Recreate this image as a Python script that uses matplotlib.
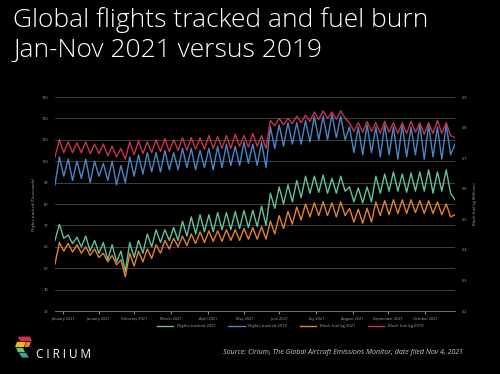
import numpy as np
import matplotlib
matplotlib.use('Agg')
import matplotlib.pyplot as plt
from matplotlib.patches import Polygon

# weekly peak / trough readings, Jan -> early Nov (45 weeks)
# flights tracked, thousands (left axis)
flights_2019_peak = [102, 101, 100, 101, 100, 99, 100, 98, 102, 103, 104, 104, 105, 104, 106,
                     106, 105, 106, 107, 108, 107, 109, 108, 109, 116, 117, 118, 118, 119,
                     121, 121, 122, 121, 116, 116, 117, 116, 117, 116, 117, 116, 117, 117, 116, 117]
flights_2019_trough = [93, 91, 92, 90, 93, 91, 89, 90, 93, 94, 95, 95, 96, 96, 97,
                       96, 97, 96, 97, 98, 98, 99, 98, 97, 106, 107, 108, 108, 109,
                       110, 110, 111, 110, 104, 103, 104, 102, 103, 101, 102, 103, 101, 102, 101, 103]
flights_2019_ends = [89, 108]

flights_2021_peak = [70.5, 65.5, 64.5, 65, 63, 62, 61, 58, 62, 63, 66, 68, 68, 69, 72,
                     74, 75, 75, 76, 76, 76.5, 77, 77, 79, 85, 88, 89, 91, 93,
                     93, 93.5, 92, 93, 88, 87.5, 88, 93, 94, 95, 94, 94.5, 95, 96, 95, 96]
flights_2021_trough = [64, 61.5, 60, 58, 57, 54, 53, 48.5, 55, 57, 60, 62, 63, 63, 65,
                       66, 67, 67, 68, 68, 68.5, 69, 69.5, 70, 78, 80, 81, 83, 85,
                       85.5, 85, 85, 86, 81, 80.5, 81, 85, 86, 86, 85.5, 86, 86, 85, 86, 85]
flights_2021_ends = [63, 82]

# block fuel, kg billions (right axis)
fuel_2019_peak = [0.760, 0.753, 0.750, 0.753, 0.746, 0.746, 0.739, 0.732, 0.753, 0.757, 0.753,
                  0.760, 0.764, 0.760, 0.767, 0.767, 0.767, 0.774, 0.771, 0.774, 0.778, 0.774,
                  0.781, 0.774, 0.823, 0.830, 0.830, 0.837, 0.841, 0.851, 0.855, 0.851, 0.855,
                  0.816, 0.816, 0.820, 0.816, 0.820, 0.816, 0.816, 0.820, 0.816, 0.816, 0.823, 0.816]
fuel_2019_trough = [0.718, 0.718, 0.718, 0.715, 0.715, 0.708, 0.704, 0.697, 0.711, 0.715, 0.718,
                    0.722, 0.722, 0.725, 0.725, 0.729, 0.729, 0.732, 0.732, 0.732, 0.739, 0.736,
                    0.739, 0.732, 0.806, 0.809, 0.813, 0.816, 0.820, 0.827, 0.830, 0.827, 0.830,
                    0.788, 0.785, 0.788, 0.781, 0.785, 0.781, 0.781, 0.785, 0.778, 0.781, 0.781, 0.774]
fuel_2019_ends = [0.704, 0.767]

fuel_2021_peak = [0.424, 0.421, 0.417, 0.410, 0.403, 0.389, 0.382, 0.368, 0.389, 0.396, 0.403,
                  0.417, 0.431, 0.438, 0.445, 0.452, 0.459, 0.462, 0.462, 0.466, 0.466, 0.470,
                  0.473, 0.476, 0.494, 0.512, 0.526, 0.540, 0.550, 0.554, 0.557, 0.554, 0.557,
                  0.536, 0.533, 0.536, 0.557, 0.561, 0.564, 0.564, 0.564, 0.561, 0.561, 0.557, 0.550]
fuel_2021_trough = [0.396, 0.393, 0.389, 0.382, 0.375, 0.361, 0.351, 0.312, 0.347, 0.361, 0.372,
                    0.389, 0.403, 0.410, 0.414, 0.421, 0.424, 0.428, 0.428, 0.431, 0.431, 0.435,
                    0.435, 0.435, 0.452, 0.470, 0.484, 0.498, 0.508, 0.512, 0.512, 0.508, 0.512,
                    0.491, 0.487, 0.491, 0.512, 0.515, 0.519, 0.519, 0.522, 0.519, 0.519, 0.515, 0.508]
fuel_2021_ends = [0.354, 0.515]

month_labels = ['January 2021', 'January 2021', 'February 2021', 'March 2021', 'April 2021',
                'May 2021', 'June 2021', 'July 2021', 'August 2021', 'September 2021', 'October 2021']


def series(peak, trough, ends):
    # start value, then peak/trough alternating each week, then last value
    zz = np.column_stack([peak, trough]).ravel()
    return np.concatenate([[ends[0]], zz, [ends[1]]])


def main():
    plt.rcParams['font.family'] = ['Open Sans', 'DejaVu Sans']

    fl19 = series(flights_2019_peak, flights_2019_trough, flights_2019_ends)
    fl21 = series(flights_2021_peak, flights_2021_trough, flights_2021_ends)
    fu19 = series(fuel_2019_peak, fuel_2019_trough, fuel_2019_ends)
    fu21 = series(fuel_2021_peak, fuel_2021_trough, fuel_2021_ends)
    xx = np.arange(len(fl19))

    fig = plt.figure(figsize=(5, 3.74), dpi=100, facecolor='black')
    ax = fig.add_axes([0.11, 0.1684, 0.80, 0.5722], facecolor='black')
    ax2 = ax.twinx()

    c_green, c_blue, c_orange, c_red = '#5fc39b', '#4a86c6', '#e3822f', '#c8334f'
    h1, = ax.plot(xx, fl21, color=c_green, linewidth=1.0, label='Flights tracked 2021')
    h2, = ax.plot(xx, fl19, color=c_blue, linewidth=1.0, label='Flights tracked 2019')
    h3, = ax2.plot(xx, fu21, color=c_orange, linewidth=1.0, label='Block fuel kg 2021')
    h4, = ax2.plot(xx, fu19, color=c_red, linewidth=1.0, label='Block fuel kg 2019')

    ax.set_xlim(0, len(xx) - 1)
    ax.set_ylim(30, 130)
    ax.set_yticks(np.arange(30, 131, 10))
    ax2.set_ylim(0.2, 0.9)
    ax2.set_yticks(np.arange(0.2, 0.91, 0.1))
    ax2.set_yticklabels(['%.1f' % v for v in np.arange(0.2, 0.91, 0.1)])

    tick_pos = [1.8, 9.9, 17.9, 26.4, 34.9, 43.1, 50.9, 59.4, 67.7, 75.7, 84.2]
    ax.set_xticks(tick_pos)
    ax.set_xticklabels(month_labels)

    ax.grid(axis='y', color='#4a4a4a', linewidth=0.6)
    ax.set_axisbelow(True)
    for a in (ax, ax2):
        for s in a.spines.values():
            s.set_visible(False)
        a.tick_params(colors='#aaaaaa', labelsize=2.8, length=0, pad=5)
    ax.spines['bottom'].set_visible(True)
    ax.spines['bottom'].set_color('#888888')
    ax.spines['bottom'].set_linewidth(0.6)
    ax.tick_params(axis='x', length=2, color='#888888', pad=2)

    ax.set_ylabel('Flights tracked (Thousands)', color='#aaaaaa', fontsize=3, labelpad=4)
    ax2.set_ylabel('Block fuel kg (Billions)', color='#aaaaaa', fontsize=3, labelpad=4)

    fig.legend(handles=[h1, h2, h3, h4], loc='center', bbox_to_anchor=(0.58, 0.128), ncol=4,
               fontsize=3, frameon=False, labelcolor='#aaaaaa', handlelength=4, columnspacing=3)

    fig.text(0.026, 0.947, 'Global flights tracked and fuel burn', color='white', fontsize=19,
             fontweight='light', ha='left', va='center')
    fig.text(0.026, 0.866, 'Jan-Nov 2021 versus 2019', color='white', fontsize=19,
             fontweight='light', ha='left', va='center')

    # Cirium logo, rough
    logo = [('#d2304a', [(0.036, 0.100), (0.060, 0.100), (0.064, 0.088), (0.040, 0.088)]),
            ('#f2b233', [(0.034, 0.086), (0.052, 0.086), (0.048, 0.072), (0.030, 0.072)]),
            ('#e3822f', [(0.053, 0.086), (0.062, 0.086), (0.058, 0.072), (0.049, 0.072)]),
            ('#6cbf73', [(0.032, 0.070), (0.046, 0.070), (0.050, 0.058), (0.036, 0.058)]),
            ('#3aa6a0', [(0.038, 0.056), (0.052, 0.056), (0.058, 0.044), (0.044, 0.044)])]
    for col, pts in logo:
        fig.add_artist(Polygon(pts, closed=True, transform=fig.transFigure, facecolor=col,
                               edgecolor='none'))
    fig.text(0.072, 0.052, 'C I R I U M', color='white', fontsize=8.5, ha='left', va='center')

    fig.text(0.926, 0.058,
             'Source: Cirium, The Global Aircraft Emissions Monitor, date filed Nov 4, 2021',
             color='#cccccc', fontsize=5.1, style='italic', ha='right', va='center')

    fig.savefig('out.png', dpi=100, facecolor='black')


if __name__ == '__main__':
    main()
